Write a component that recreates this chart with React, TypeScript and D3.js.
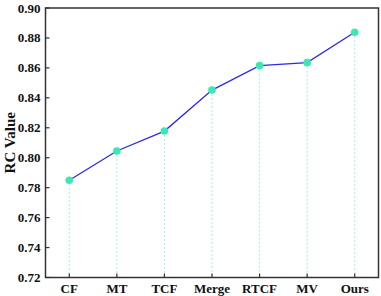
import React from "react";
import * as d3 from "d3";

const categories = ["CF", "MT", "TCF", "Merge", "RTCF", "MV", "Ours"];
const values = [0.785, 0.8045, 0.8178, 0.8452, 0.8615, 0.8635, 0.8838];
const yTicks = [0.72, 0.74, 0.76, 0.78, 0.8, 0.82, 0.84, 0.86, 0.88, 0.9];

export default function App() {
  const W = 381, H = 296;
  const m = { left: 45.5, right: 2.5, top: 8, bottom: 18.5 };
  const x = d3.scalePoint<string>().domain(categories).range([m.left, W - m.right]).padding(0.5);
  const y = d3.scaleLinear().domain([0.72, 0.9]).range([H - m.bottom, m.top]);
  const pts = categories.map((c, i) => [x(c)!, y(values[i])] as [number, number]);
  const line = d3.line()(pts) || "";
  const font = "'Liberation Serif', 'Times New Roman', serif";
  const axisColor = "#333";
  return (
    <svg width={W} height={H} style={{ position: "absolute", left: 0, top: 0, background: "#fff" }}>
      {pts.map((p, i) => (
        <line key={"d" + i} x1={p[0]} x2={p[0]} y1={p[1]} y2={y(0.72)} stroke="#9cf2dc" strokeWidth={1} strokeDasharray="2,2" />
      ))}
      <path d={line} fill="none" stroke="#2a2ae8" strokeWidth={1.3} />
      {pts.map((p, i) => (
        <circle key={"c" + i} cx={p[0]} cy={p[1]} r={3.8} fill="#3ae8b4" />
      ))}
      <rect x={m.left} y={m.top} width={W - m.left - m.right} height={H - m.top - m.bottom} fill="none" stroke={axisColor} strokeWidth={1.5} />
      {yTicks.map((t) => (
        <g key={"y" + t}>
          <line x1={m.left} x2={m.left + 4} y1={y(t)} y2={y(t)} stroke={axisColor} strokeWidth={1.2} />
          <text x={m.left - 5} y={y(t)} dy="0.35em" textAnchor="end" fontFamily={font} fontWeight="bold" fontSize={13} fill="#111">
            {t.toFixed(2)}
          </text>
        </g>
      ))}
      {categories.map((c) => (
        <g key={"x" + c}>
          <line x1={x(c)!} x2={x(c)!} y1={y(0.72)} y2={y(0.72) - 4} stroke={axisColor} strokeWidth={1.2} />
          <text x={x(c)!} y={H - 3} textAnchor="middle" fontFamily={font} fontWeight="bold" fontSize={13} fill="#111">
            {c}
          </text>
        </g>
      ))}
      <text transform={`translate(14.5,${(m.top + H - m.bottom) / 2}) rotate(-90)`} textAnchor="middle" fontFamily={font} fontWeight="bold" fontSize={15} fill="#111">
        RC Value
      </text>
    </svg>
  );
}
